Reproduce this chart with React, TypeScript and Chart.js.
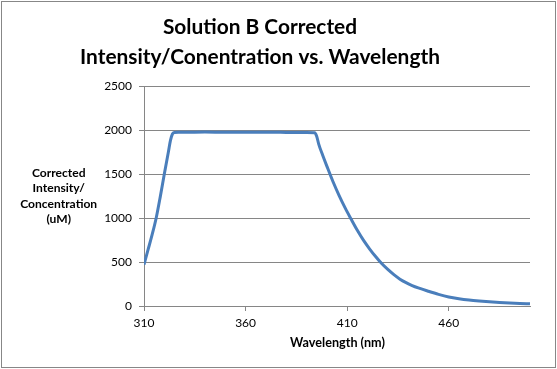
import React, { useEffect, useRef } from 'react';
import { Chart, registerables } from 'chart.js';

Chart.register(...registerables);

const wavelengths = [
  310, 312, 314, 316, 318, 320, 322, 323, 324, 325, 327, 330, 340, 350, 360, 370, 380, 390, 394,
  395, 396, 398, 400, 403, 406, 409, 412, 415, 418, 421, 424, 427, 430, 433, 436, 439, 442, 445,
  450, 455, 460, 465, 470, 475, 480, 485, 490, 495, 500,
];
const intensities = [
  470, 640, 810, 1000, 1240, 1500, 1750, 1880, 1955, 1972, 1975, 1975, 1976, 1975, 1975, 1974, 1973, 1972, 1970,
  1930, 1840, 1710, 1590, 1415, 1258, 1115, 985, 860, 748, 650, 562, 482, 415, 356, 305, 265, 232, 205,
  167, 132, 103, 83, 68, 57, 48, 40, 34, 29, 25,
];
const xTicks = [310, 360, 410, 460];
const yTicks = [0, 500, 1000, 1500, 2000, 2500];
const titleLines = ['Solution B Corrected', 'Intensity/Conentration vs. Wavelength'];
const yTitleLines = ['Corrected', 'Intensity/', 'Concentration', '(uM)'];
const xTitle = 'Wavelength (nm)';

const FONT = 'Lato, "Noto Sans", sans-serif';
const GRID = '#868686';

function fitSize(ctx: CanvasRenderingContext2D, text: string, target: number, weight: string) {
  ctx.font = `${weight} 20px ${FONT}`;
  const w = ctx.measureText(text).width;
  return (20 * target) / w;
}

const textPlugin = {
  id: 'texts',
  afterDraw(chart: any) {
    const ctx: CanvasRenderingContext2D = chart.ctx;
    ctx.save();
    ctx.strokeStyle = '#878787';
    ctx.lineWidth = 1;
    ctx.strokeRect(1.5, 1.5, 554, 366);

    ctx.fillStyle = '#000';
    ctx.textAlign = 'center';
    ctx.textBaseline = 'alphabetic';

    const ts = fitSize(ctx, titleLines[1], 360, 'bold');
    ctx.font = `bold ${ts}px ${FONT}`;
    ctx.fillText(titleLines[0], 260, 33.5);
    ctx.fillText(titleLines[1], 260, 63.5);

    const ys = fitSize(ctx, 'Concentration', 77, 'bold');
    ctx.font = `bold ${ys}px ${FONT}`;
    const yBase = [176.7, 192.3, 207.8, 223.3];
    yTitleLines.forEach((l, i) => ctx.fillText(l, 58.7, yBase[i]));

    const xs = fitSize(ctx, xTitle, 95, 'bold');
    ctx.font = `bold ${xs}px ${FONT}`;
    ctx.fillText(xTitle, 337.5, 346.7);
    ctx.restore();
  },
};

export default function App() {
  const ref = useRef<HTMLCanvasElement>(null);
  useEffect(() => {
    document.body.style.margin = '0';
    const canvas = ref.current!;
    const chart = new Chart(canvas, {
      type: 'line',
      data: {
        datasets: [
          {
            data: wavelengths.map((x, i) => ({ x, y: intensities[i] })),
            borderColor: '#4A7EBB',
            borderWidth: 3,
            pointRadius: 0,
            cubicInterpolationMode: 'monotone',
            fill: false,
          },
        ],
      },
      options: {
        animation: false,
        responsive: false,
        devicePixelRatio: 1,
        layout: { padding: { top: 86, right: 27, bottom: 0, left: 0 } },
        plugins: { legend: { display: false }, tooltip: { enabled: false }, title: { display: false } },
        scales: {
          x: {
            type: 'linear',
            min: 310,
            max: 500,
            afterBuildTicks: (s: any) => {
              s.ticks = xTicks.map((v) => ({ value: v }));
            },
            afterFit: (s: any) => {
              s.height = 63;
            },
            ticks: {
              font: { family: FONT, size: 12 },
              color: '#000',
              padding: 5,
              maxRotation: 0,
              autoSkip: false,
              callback: (v: any) => String(v),
            },
            grid: { drawOnChartArea: false, drawTicks: true, tickLength: 5, color: GRID },
            border: { color: GRID },
          },
          y: {
            min: 0,
            max: 2500,
            afterBuildTicks: (s: any) => {
              s.ticks = yTicks.map((v) => ({ value: v }));
            },
            afterFit: (s: any) => {
              s.width = 144;
            },
            ticks: {
              font: { family: FONT, size: 12 },
              color: '#000',
              padding: 7,
              callback: (v: any) => String(v),
            },
            grid: { color: GRID, tickLength: 5 },
            border: { color: GRID },
          },
        },
      },
      plugins: [textPlugin],
    });
    return () => chart.destroy();
  }, []);
  return <canvas ref={ref} width={557} height={369} style={{ display: 'block' }} />;
}
